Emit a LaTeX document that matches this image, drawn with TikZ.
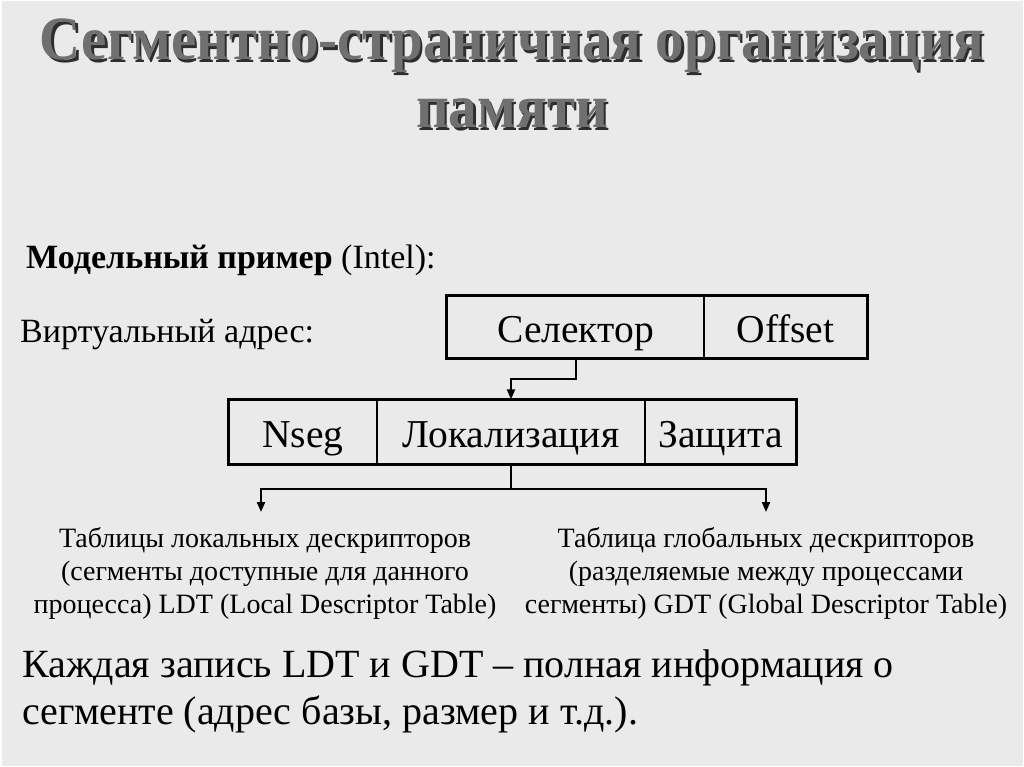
\documentclass[tikz,border=0pt]{standalone}
\usepackage{fontspec}
\setmainfont{Liberation Serif}
\usetikzlibrary{arrows.meta}
\definecolor{bgc}{HTML}{EAEAEA}
\definecolor{titlec}{HTML}{707070}
\definecolor{shadowc}{HTML}{2E2E2E}
\newcommand\myshadowed[1]{\makebox[0pt][l]{\hspace{2.5pt}\raisebox{-2.5pt}{\textcolor{shadowc}{#1}}}\textcolor{titlec}{#1}}
\tikzset{
  txt/.style={inner sep=0pt, anchor=base, text=black},
  ttl/.style={inner sep=0pt, anchor=base, font=\fontsize{57}{66}\selectfont\bfseries},
  cell/.style={draw=black, line width=1.3pt, inner sep=0pt, font=\fontsize{39.5}{42}\selectfont, text height=31pt, text depth=0pt},
  frame/.style={draw=black, line width=3pt},
  conn/.style={draw=black, line width=2pt, -{Triangle[length=10pt,width=8pt]}},
  line/.style={draw=black, line width=2pt},
  desc/.style={inner sep=0pt, anchor=base, align=center, font=\fontsize{28}{33}\selectfont},
}
\begin{document}
\begin{tikzpicture}[x=1pt,y=-1pt]
\useasboundingbox (0,0) rectangle (1024,767);
\fill[bgc] (0,0) rectangle (1024,767);
\draw[white, line width=1.5pt] (0.75,0.75) rectangle (1023.25,766.25);
% title
\node[ttl] (t1) at (512,60) {\myshadowed{\scalebox{1}[1.08]{Сегментно-страничная организация}}};
\node[ttl] (t2) at (512,128) {\myshadowed{\scalebox{1}[1.08]{памяти}}};
% labels
\node[txt, anchor=base west, font=\fontsize{34}{38}\selectfont] (model) at (26,268) {\textbf{Модельный пример} (Intel):};
\node[txt, anchor=base west, font=\fontsize{34}{38}\selectfont] (virt) at (20,342) {Виртуальный адрес:};
% top box
\node[cell, minimum width=257pt, minimum height=62pt] (sel) at (575.5,327) {Селектор};
\node[cell, minimum width=163pt, minimum height=62pt] (off) at (785.5,327) {Offset};
\draw[frame] (sel.north west) rectangle (off.south east);
% second box
\node[cell, minimum width=148pt, minimum height=64pt] (nseg) at (303,432) {Nseg};
\node[cell, minimum width=268pt, minimum height=64pt] (loc) at (511,432) {Локализация};
\node[cell, minimum width=151pt, minimum height=64pt] (prot) at (720.5,432) {Защита};
\draw[frame] (nseg.north west) rectangle (prot.south east);
% connectors
\coordinate (j1) at (576,379);
\draw[conn] (sel.south -| j1) -- (j1) -- (j1 -| loc.north) -- (loc.north);
\coordinate (j2) at (511,489);
\coordinate (la) at (261,512);
\coordinate (ra) at (766,512);
\draw[line] (loc.south) -- (j2);
\draw[conn] (j2) -- (j2 -| la) -- (la);
\draw[conn] (j2) -- (j2 -| ra) -- (ra);
% descriptions
\node[desc] (ldt) at (265,613) {Таблицы локальных дескрипторов\\(сегменты доступные для данного\\процесса) LDT (Local Descriptor Table)};
\node[desc] (gdt) at (766,613) {Таблица глобальных дескрипторов\\(разделяемые между процессами\\сегменты) GDT (Global Descriptor Table)};
% bottom text
\node[txt, anchor=base west, font=\fontsize{40}{46}\selectfont] (each1) at (22,677) {Каждая запись LDT и GDT – полная информация о};
\node[txt, anchor=base west, font=\fontsize{40}{46}\selectfont] (each2) at (22,724) {сегменте (адрес базы, размер и т.д.).};
\end{tikzpicture}
\end{document}
